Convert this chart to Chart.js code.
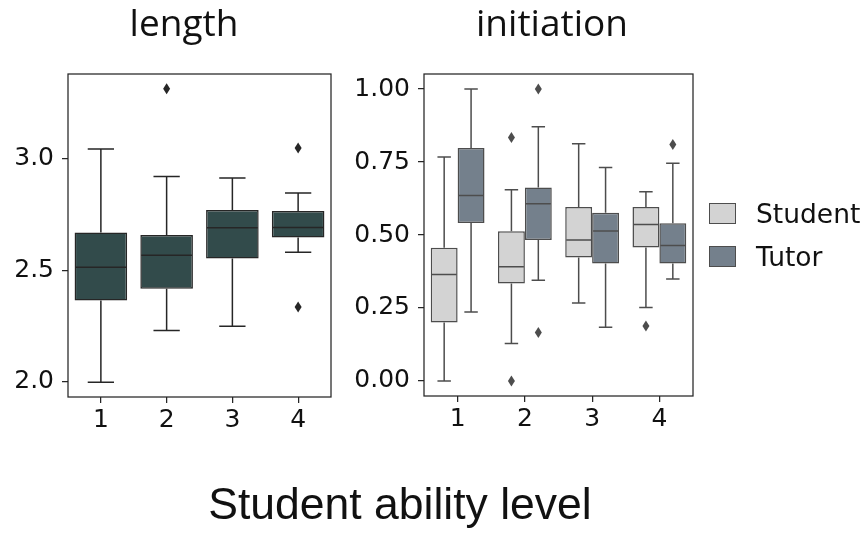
<!DOCTYPE html>
<html>
<head>
<meta charset="utf-8">
<script src="https://cdn.jsdelivr.net/npm/chart.js@4/dist/chart.umd.min.js"></script>
<style>
  body { margin: 0; background: #fff; }
  #wrap { position: relative; width: 867px; height: 538px; overflow: hidden; }
  canvas { position: absolute; left: 0; top: 0; }
  .title { position: absolute; top: 0; width: 200px; text-align: center;
           font-family: "Open Sans", sans-serif; font-size: 37px; line-height: 44px; color: #111; }
  #xlabel { position: absolute; left: 100px; width: 600px; top: 479px; text-align: center;
            font-family: "Liberation Sans", Arial, sans-serif; font-size: 44.5px; line-height: 50px; color: #111; }
  #legend { position: absolute; left: 709px; top: 203px; font-family: "DejaVu Sans", sans-serif;
            font-size: 26.5px; color: #111; }
  .item { display: flex; align-items: center; height: 21px; margin-bottom: 22px; }
  .swatch { width: 27px; height: 21px; box-sizing: border-box; border: 1.5px solid #4d4d4d; margin-right: 20px; }
</style>
</head>
<body>
<div id="wrap">
  <canvas id="lengthChart" width="867" height="538"></canvas>
  <canvas id="initChart" width="867" height="538"></canvas>
  <div class="title" style="left:84px">length</div>
  <div class="title" style="left:452px">initiation</div>
  <div id="xlabel">Student ability level</div>
  <div id="legend"></div>
</div>
<script>
const levels = ['1', '2', '3', '4'];

// length panel (single series)
const lengthLow  = [1.998, 2.230, 2.249, 2.581];
const lengthQ1   = [2.365, 2.417, 2.553, 2.647];
const lengthMed  = [2.514, 2.568, 2.691, 2.692];
const lengthQ3   = [2.670, 2.658, 2.770, 2.766];
const lengthHigh = [3.044, 2.920, 2.914, 2.846];
const lengthOut  = [[], [3.314], [], [3.048, 2.335]];
const lengthTicks = [2.0, 2.5, 3.0];

// initiation panel
const seriesNames = ['Student', 'Tutor'];
const studentLow  = [0.000, 0.128, 0.267, 0.252];
const studentQ1   = [0.200, 0.334, 0.423, 0.457];
const studentMed  = [0.365, 0.391, 0.483, 0.536];
const studentQ3   = [0.456, 0.513, 0.596, 0.596];
const studentHigh = [0.767, 0.655, 0.813, 0.648];
const studentOut  = [[], [0.834, 0.000], [], [0.188]];

const tutorLow  = [0.236, 0.345, 0.184, 0.349];
const tutorQ1   = [0.541, 0.483, 0.402, 0.402];
const tutorMed  = [0.635, 0.607, 0.514, 0.464];
const tutorQ3   = [0.798, 0.663, 0.576, 0.540];
const tutorHigh = [1.000, 0.871, 0.731, 0.746];
const tutorOut  = [[], [1.000, 0.166], [], [0.810]];
const initTicks = [0.00, 0.25, 0.50, 0.75, 1.00];

const lengthColor = '#324b4b';
const seriesColors = ['#d3d3d3', '#74808c'];
const axisColor = '#262626';

Chart.defaults.font.family = 'DejaVu Sans';
Chart.defaults.font.size = 25;
Chart.defaults.color = '#111';

function boxDataset(label, q1, q3, med, low, high, out, fill, line) {
  return {
    label: label,
    data: q1.map((v, i) => [v, q3[i]]),
    backgroundColor: fill,
    borderColor: line,
    borderWidth: 1.5,
    borderSkipped: false,
    categoryPercentage: 0.8,
    barPercentage: 1.0,
    box: { med: med, low: low, high: high, out: out, line: line }
  };
}

// whiskers, caps, medians, fliers and the frame
const boxPlugin = {
  id: 'boxExtras',
  afterDatasetsDraw(chart) {
    const ctx = chart.ctx;
    const y = chart.scales.y;
    chart.data.datasets.forEach((ds, d) => {
      const meta = chart.getDatasetMeta(d);
      const b = ds.box;
      meta.data.forEach((bar, i) => {
        const x = bar.x, w = bar.width;
        const pQ1 = y.getPixelForValue(ds.data[i][0]);
        const pQ3 = y.getPixelForValue(ds.data[i][1]);
        const pLo = y.getPixelForValue(b.low[i]);
        const pHi = y.getPixelForValue(b.high[i]);
        const pMed = y.getPixelForValue(b.med[i]);
        ctx.save();
        ctx.strokeStyle = b.line;
        ctx.lineWidth = 1.5;
        ctx.beginPath();
        ctx.moveTo(x, pQ1); ctx.lineTo(x, pLo);
        ctx.moveTo(x, pQ3); ctx.lineTo(x, pHi);
        ctx.moveTo(x - w / 4, pLo); ctx.lineTo(x + w / 4, pLo);
        ctx.moveTo(x - w / 4, pHi); ctx.lineTo(x + w / 4, pHi);
        ctx.moveTo(x - w / 2 + 1, pMed); ctx.lineTo(x + w / 2 - 1, pMed);
        ctx.stroke();
        ctx.fillStyle = b.line;
        b.out[i].forEach(v => {
          const py = y.getPixelForValue(v);
          ctx.beginPath();
          ctx.moveTo(x, py - 5.5);
          ctx.lineTo(x + 3.5, py);
          ctx.lineTo(x, py + 5.5);
          ctx.lineTo(x - 3.5, py);
          ctx.closePath();
          ctx.fill();
        });
        ctx.restore();
      });
    });
  },
  afterDraw(chart) {
    const a = chart.chartArea;
    const ctx = chart.ctx;
    ctx.save();
    ctx.strokeStyle = axisColor;
    ctx.lineWidth = 1.25;
    ctx.strokeRect(a.left, a.top, a.right - a.left, a.bottom - a.top);
    ctx.restore();
  }
};

function makeOptions(pad, yMin, yMax, ticks, digits, yWidth) {
  return {
    responsive: false,
    animation: false,
    layout: { padding: pad },
    plugins: { legend: { display: false }, tooltip: { enabled: false } },
    scales: {
      x: {
        offset: true,
        grid: { display: true, offset: false, drawOnChartArea: false, drawTicks: true, tickLength: 6, color: axisColor, lineWidth: 1.25 },
        border: { display: false },
        ticks: { padding: 2 },
        afterFit: s => { s.height = 40; }
      },
      y: {
        min: yMin,
        max: yMax,
        grid: { display: true, drawOnChartArea: false, drawTicks: true, tickLength: 6, color: axisColor, lineWidth: 1.25 },
        border: { display: false },
        ticks: { padding: 8, callback: v => Number(v).toFixed(digits) },
        afterBuildTicks: s => { s.ticks = ticks.map(v => ({ value: v })); },
        afterFit: s => { s.width = yWidth; }
      }
    }
  };
}

new Chart(document.getElementById('lengthChart'), {
  type: 'bar',
  data: {
    labels: levels,
    datasets: [boxDataset('length', lengthQ1, lengthQ3, lengthMed, lengthLow, lengthHigh, lengthOut, lengthColor, '#262626')]
  },
  options: makeOptions({ left: 0, right: 536, top: 74, bottom: 101 }, 1.932, 3.380, lengthTicks, 1, 68),
  plugins: [boxPlugin]
});

new Chart(document.getElementById('initChart'), {
  type: 'bar',
  data: {
    labels: levels,
    datasets: [
      boxDataset(seriesNames[0], studentQ1, studentQ3, studentMed, studentLow, studentHigh, studentOut, seriesColors[0], '#4d4d4d'),
      boxDataset(seriesNames[1], tutorQ1, tutorQ3, tutorMed, tutorLow, tutorHigh, tutorOut, seriesColors[1], '#4d4d4d')
    ]
  },
  options: makeOptions({ left: 354, right: 174, top: 74, bottom: 102 }, -0.0515, 1.0515, initTicks, 2, 70),
  plugins: [boxPlugin]
});

// legend
const legend = document.getElementById('legend');
seriesNames.forEach((name, i) => {
  const item = document.createElement('div');
  item.className = 'item';
  item.innerHTML = '<div class="swatch" style="background:' + seriesColors[i] + '"></div><span>' + name + '</span>';
  legend.appendChild(item);
});
</script>
</body>
</html>
